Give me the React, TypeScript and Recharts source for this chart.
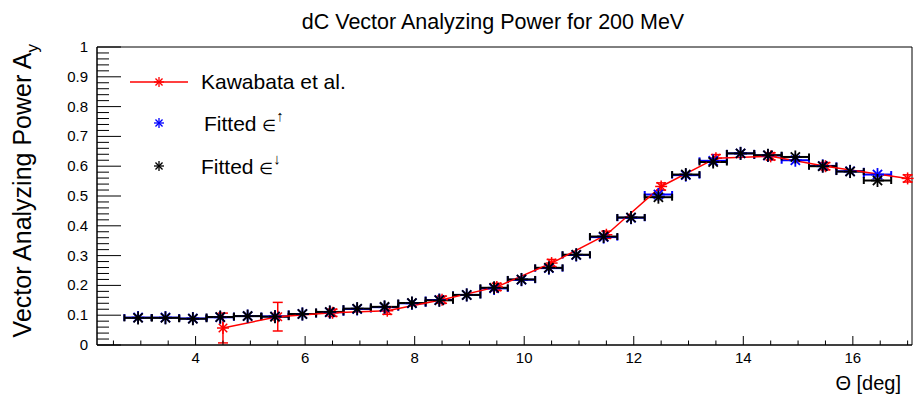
import { ScatterChart, Scatter, XAxis, YAxis, ErrorBar, ReferenceArea } from 'recharts';

const FONT = '"Liberation Sans", Arial, "DejaVu Sans", sans-serif';

// Kawabata et al. measurement
const kawabataTheta = [4.5, 5.5, 6.5, 7.5, 8.5, 9.5, 10.5, 11.5, 12.5, 13.5, 14.5, 15.5, 17.0];
const kawabataAy = [0.057, 0.095, 0.108, 0.115, 0.152, 0.195, 0.275, 0.37, 0.532, 0.627, 0.633, 0.6, 0.559];
const kawabataErr = [0.05, 0.048, 0.012, 0.012, 0.012, 0.012, 0.012, 0.012, 0.012, 0.012, 0.012, 0.012, 0.012];

// fitted bins (same theta for both spin states)
const fitTheta = [
  2.95, 3.45, 3.95, 4.45, 4.95, 5.45, 5.95, 6.45, 6.95, 7.45, 7.95, 8.45, 8.95, 9.45,
  9.95, 10.45, 10.95, 11.45, 11.95, 12.45, 12.95, 13.45, 13.95, 14.45, 14.95, 15.45, 15.95, 16.45,
];
const fitUpAy = [
  0.092, 0.092, 0.089, 0.093, 0.097, 0.096, 0.104, 0.11, 0.121, 0.127, 0.14, 0.151, 0.168, 0.19,
  0.219, 0.258, 0.302, 0.362, 0.427, 0.505, 0.57, 0.618, 0.643, 0.636, 0.62, 0.601, 0.583, 0.572,
];
const fitDownAy = [
  0.091, 0.091, 0.088, 0.094, 0.097, 0.095, 0.104, 0.111, 0.122, 0.128, 0.141, 0.15, 0.168, 0.192,
  0.22, 0.259, 0.303, 0.364, 0.428, 0.496, 0.572, 0.614, 0.643, 0.637, 0.631, 0.6, 0.582, 0.552,
];
const binHalfWidth = 0.25;

const xMajorTicks = [4, 6, 8, 10, 12, 14, 16];
const xTickLabels = ['4', '6', '8', '10', '12', '14', '16'];
const xMinorTicks = [
  2.5, 3, 3.5, 4.5, 5, 5.5, 6.5, 7, 7.5, 8.5, 9, 9.5, 10.5, 11, 11.5, 12.5, 13, 13.5, 14.5, 15, 15.5,
  16.5, 17,
];
const yMajorTicks = [0, 0.1, 0.2, 0.3, 0.4, 0.5, 0.6, 0.7, 0.8, 0.9, 1];
const yTickLabels = ['0', '0.1', '0.2', '0.3', '0.4', '0.5', '0.6', '0.7', '0.8', '0.9', '1'];

const X_DOMAIN: [number, number] = [2.2, 17.08];

const kawabataData = kawabataTheta.map((x, i) => ({ x, y: kawabataAy[i], ey: kawabataErr[i] }));
const fitUpData = fitTheta.map((x, i) => ({ x, y: fitUpAy[i], ex: binHalfWidth }));
const fitDownData = fitTheta.map((x, i) => ({ x, y: fitDownAy[i], ex: binHalfWidth }));

// minor y ticks: 4 subdivisions between majors
const yAllTicks: number[] = [];
yMajorTicks.forEach((v, i) => {
  yAllTicks.push(v);
  if (i < yMajorTicks.length - 1) {
    for (let k = 1; k < 5; k++) yAllTicks.push(+(v + k * 0.02).toFixed(3));
  }
});
const xAllTicks = [...xMajorTicks, ...xMinorTicks].sort((a, b) => a - b);

function Star({ cx, cy, r, color, width }: { cx: number; cy: number; r: number; color: string; width: number }) {
  const d = r * 0.7071;
  return (
    <g stroke={color} strokeWidth={width}>
      <line x1={cx - r} y1={cy} x2={cx + r} y2={cy} />
      <line x1={cx} y1={cy - r} x2={cx} y2={cy + r} />
      <line x1={cx - d} y1={cy - d} x2={cx + d} y2={cy + d} />
      <line x1={cx - d} y1={cy + d} x2={cx + d} y2={cy - d} />
    </g>
  );
}

function XTick({ x, y, payload }: any) {
  const idx = xMajorTicks.indexOf(payload.value);
  const major = idx >= 0;
  return (
    <g>
      <line x1={x} y1={y} x2={x} y2={y - (major ? 9 : 4.5)} stroke="#000" />
      {major && (
        <text x={x} y={y + 18} textAnchor="middle" fontSize={15} fontFamily={FONT} fill="#000">
          {xTickLabels[idx]}
        </text>
      )}
    </g>
  );
}

function YTick({ x, y, payload }: any) {
  const idx = yMajorTicks.findIndex((v) => Math.abs(v - payload.value) < 1e-6);
  const major = idx >= 0;
  return (
    <g>
      <line x1={x} y1={y} x2={x + (major ? 24 : 12)} y2={y} stroke="#000" />
      {major && (
        <text x={x - 9} y={y + 5} textAnchor="end" fontSize={15} fontFamily={FONT} fill="#000">
          {yTickLabels[idx]}
        </text>
      )}
    </g>
  );
}

export default function App() {
  return (
    <div style={{ position: 'absolute', left: 0, top: 0, width: 914, height: 400, background: '#fff' }}>
      <ScatterChart width={914} height={400} margin={{ top: 47, right: 2, bottom: 0, left: 0 }}>
        <XAxis
          type="number"
          dataKey="x"
          domain={X_DOMAIN}
          ticks={xAllTicks}
          interval={0}
          height={55}
          tickSize={0}
          tickMargin={0}
          tickLine={false}
          tick={<XTick />}
          axisLine={{ stroke: '#000' }}
          label={{
            content: () => (
              <text x={901} y={390} textAnchor="end" fontSize={20} fontFamily={FONT} fill="#000">
                Θ [deg]
              </text>
            ),
          }}
        />
        <YAxis
          type="number"
          dataKey="y"
          domain={[0, 1]}
          ticks={yAllTicks}
          interval={0}
          width={97}
          tickSize={0}
          tickMargin={0}
          tickLine={false}
          tick={<YTick />}
          axisLine={{ stroke: '#000' }}
          label={{
            content: () => (
              <text
                transform="translate(31,44) rotate(-90)"
                textAnchor="end"
                fontSize={25}
                fontFamily={FONT}
                fill="#000"
              >
                Vector Analyzing Power A
                <tspan dy={7} fontSize={17}>
                  y
                </tspan>
              </text>
            ),
          }}
        />
        <ReferenceArea
          x1={X_DOMAIN[0]}
          x2={X_DOMAIN[1]}
          y1={0}
          y2={1}
          fill="none"
          stroke="#000"
          strokeWidth={1}
          ifOverflow="visible"
        />
        <Scatter
          name="Kawabata et al."
          data={kawabataData}
          line={{ stroke: '#ff0000', strokeWidth: 1.5 }}
          isAnimationActive={false}
          shape={(p: any) => <Star cx={p.cx} cy={p.cy} r={6} color="#ff0000" width={1.5} />}
        >
          <ErrorBar dataKey="ey" direction="y" width={5} stroke="#ff0000" strokeWidth={1.5} isAnimationActive={false} />
        </Scatter>
        <Scatter
          name="Fitted up"
          data={fitUpData}
          isAnimationActive={false}
          shape={(p: any) => <Star cx={p.cx} cy={p.cy} r={6.5} color="#0000ff" width={1.8} />}
        >
          <ErrorBar dataKey="ex" direction="x" width={3.5} stroke="#0000ff" strokeWidth={2} isAnimationActive={false} />
        </Scatter>
        <Scatter
          name="Fitted down"
          data={fitDownData}
          isAnimationActive={false}
          shape={(p: any) => <Star cx={p.cx} cy={p.cy} r={6.5} color="#000" width={1.8} />}
        >
          <ErrorBar dataKey="ex" direction="x" width={3.5} stroke="#000" strokeWidth={2} isAnimationActive={false} />
        </Scatter>
      </ScatterChart>
      <svg
        width={914}
        height={400}
        style={{ position: 'absolute', left: 0, top: 0, pointerEvents: 'none' }}
        fontFamily={FONT}
      >
        <text x={493} y={29} textAnchor="middle" fontSize={21.5} fill="#000">
          dC Vector Analyzing Power for 200 MeV
        </text>
        <line x1={130} y1={82} x2={188} y2={82} stroke="#ff0000" strokeWidth={1.5} />
        <Star cx={159} cy={82} r={5} color="#ff0000" width={1.3} />
        <text x={201} y={89} fontSize={21} fill="#000">
          Kawabata et al.
        </text>
        <Star cx={159} cy={123} r={5} color="#0000ff" width={1.3} />
        <text x={204} y={131} fontSize={21} fill="#000">
          Fitted <tspan fontSize={16}>∈</tspan>
          <tspan dy={-10} fontSize={15}>↑</tspan>
        </text>
        <Star cx={159} cy={166} r={5} color="#000" width={1.3} />
        <text x={201} y={174} fontSize={21} fill="#000">
          Fitted <tspan fontSize={16}>∈</tspan>
          <tspan dy={-10} fontSize={15}>↓</tspan>
        </text>
      </svg>
    </div>
  );
}
